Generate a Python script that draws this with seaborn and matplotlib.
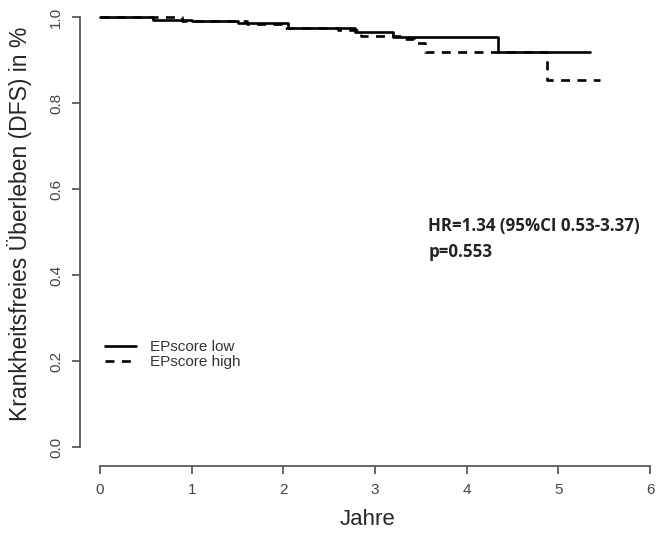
import matplotlib
matplotlib.use("Agg")
import matplotlib.pyplot as plt
import seaborn as sns
import pandas as pd

# Kaplan-Meier step estimates (time in years, survival fraction)
low_time = [0.0, 0.58, 1.0, 1.5, 2.05, 2.78, 3.2, 4.34, 5.35]
low_surv = [1.0, 0.993, 0.99, 0.986, 0.975, 0.965, 0.953, 0.918, 0.918]

high_time = [0.0, 0.9, 1.6, 2.0, 2.6, 2.85, 3.3, 3.42, 3.55, 4.88, 5.45]
high_surv = [1.0, 0.99, 0.985, 0.975, 0.97, 0.957, 0.95, 0.94, 0.92, 0.853, 0.853]

x_ticks = [0, 1, 2, 3, 4, 5, 6]
y_ticks = [0.0, 0.2, 0.4, 0.6, 0.8, 1.0]

group_labels = ["EPscore low", "EPscore high"]
hr_text = "HR=1.34 (95%CI 0.53-3.37)"
p_text = "p=0.553"

sns.set_style("white")
plt.rcParams["font.family"] = ["Liberation Sans", "DejaVu Sans"]

df_low = pd.DataFrame({"t": low_time, "s": low_surv})
df_high = pd.DataFrame({"t": high_time, "s": high_surv})

fig = plt.figure(figsize=(6.56, 5.39), dpi=100)
ax = fig.add_axes([80 / 656, 1 - 466 / 539, 575 / 656, 466 / 539])

sns.lineplot(data=df_low, x="t", y="s", ax=ax, estimator=None, sort=False,
             drawstyle="steps-post", color="black", linewidth=1.9,
             label=group_labels[0])
sns.lineplot(data=df_high, x="t", y="s", ax=ax, estimator=None, sort=False,
             drawstyle="steps-post", color="black", linewidth=1.9,
             linestyle=(0, (3.4, 2.8)), label=group_labels[1])

ax.set_xlim(-0.218, 6.054)
ax.set_ylim(-0.0442, 1.04)

# R-style detached axes
for side in ("top", "right"):
    ax.spines[side].set_visible(False)
axis_col = "#5a5a5a"
ax.spines["left"].set_bounds(0, 1)
ax.spines["bottom"].set_bounds(0, 6)
for side in ("left", "bottom"):
    ax.spines[side].set_color(axis_col)
    ax.spines[side].set_linewidth(1.3)

ax.set_xticks(x_ticks)
ax.set_yticks(y_ticks)
ax.set_xticklabels([str(v) for v in x_ticks])
ax.set_yticklabels([f"{v:.1f}" for v in y_ticks], rotation=90, va="center")
ax.tick_params(axis="both", which="major", direction="out", length=6, width=1.3,
               color=axis_col, labelcolor="#444444", labelsize=11, pad=6,
               left=True, bottom=True)

ax.set_xlabel("Jahre", fontsize=16, labelpad=9)
ax.set_ylabel("Krankheitsfreies Überleben (DFS) in %", fontsize=16.5)
ax.yaxis.set_label_coords(-0.083, 0.52)

leg = ax.legend(loc="upper left", bbox_to_anchor=(0.02, 0.30), frameon=False,
                fontsize=11, handlelength=2.0, handletextpad=0.9,
                labelspacing=0.1, labelcolor="#333333")

ax.text(3.58, 0.514, hr_text, fontsize=12.2, fontweight="bold",
        family=["Open Sans", "DejaVu Sans"], color="#222222", va="center")
ax.text(3.58, 0.453, p_text, fontsize=12.2, fontweight="bold",
        family=["Open Sans", "DejaVu Sans"], color="#222222", va="center")

fig.savefig("out.png", dpi=100)
